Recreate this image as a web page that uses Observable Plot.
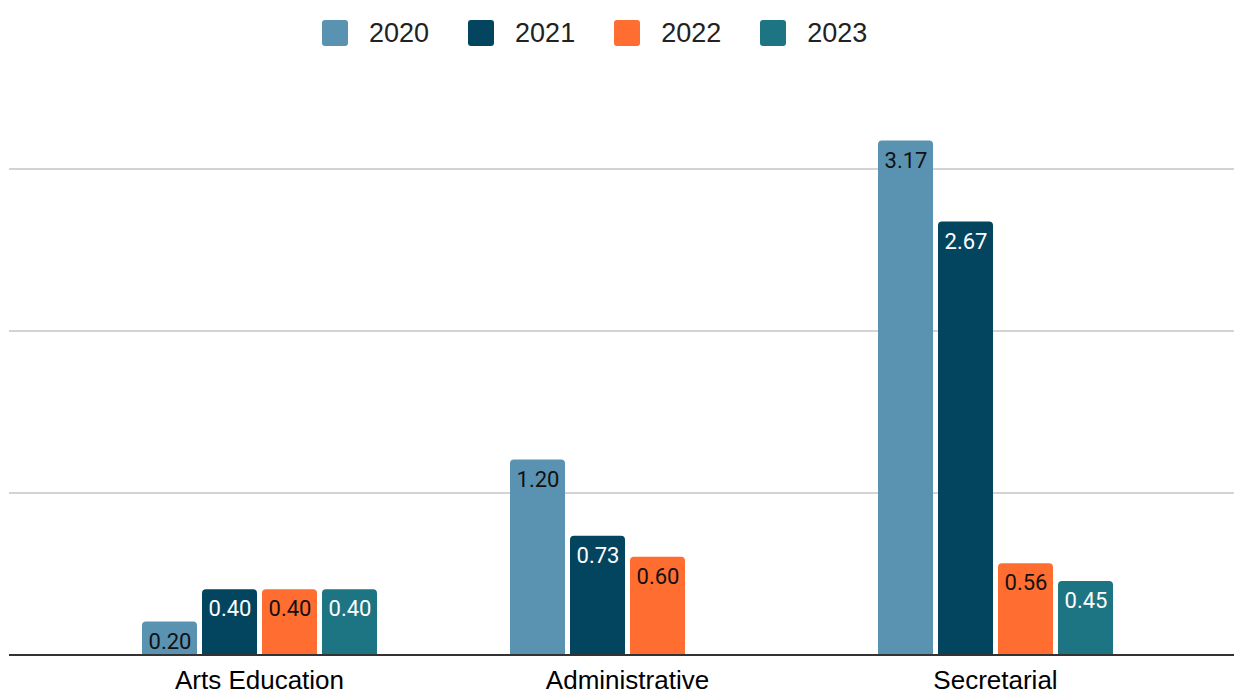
<!DOCTYPE html>
<html><head><meta charset="utf-8">
<script src="https://cdn.jsdelivr.net/npm/d3@7"></script>
<script src="https://cdn.jsdelivr.net/npm/@observablehq/plot@0.6"></script>
<style>
body{margin:0;background:#fff;font-family:"Liberation Sans",Arial,sans-serif;}
#legend{height:66px;position:relative;display:flex;align-items:center;padding-left:322px;box-sizing:border-box;}
.item{display:flex;align-items:center;font-size:27px;color:#222;margin-right:39px;}
.sw{width:26px;height:26px;border-radius:3px;margin-right:21px;}
#chart svg{display:block;}
</style></head><body>
<div id="legend"></div><div id="chart"></div>
<script>
const categories = ["Arts Education", "Administrative", "Secretarial"];
const years = ["2020", "2021", "2022", "2023"];
const v2020 = [0.20, 1.20, 3.17];
const v2021 = [0.40, 0.73, 2.67];
const v2022 = [0.40, 0.60, 0.56];
const v2023 = [0.40, null, 0.45];
const colors = ["#5a93b1", "#03455f", "#ff6d31", "#1d7483"];
const darkYears = ["2021", "2023"];
const gridTicks = [1, 2, 3];

const series = [v2020, v2021, v2022, v2023];
const data = [];
categories.forEach((c, i) => years.forEach((y, j) => {
  const v = series[j][i];
  if (v != null) data.push({category: c, year: y, value: v});
}));

const legend = document.getElementById("legend");
years.forEach((y, j) => {
  const it = document.createElement("div");
  it.className = "item";
  it.innerHTML = `<div class="sw" style="background:${colors[j]}"></div><span>${y}</span>`;
  legend.appendChild(it);
});

const chart = Plot.plot({
  width: 1234,
  height: 629,
  marginLeft: 11,
  marginRight: 0,
  marginTop: 0,
  marginBottom: 41,
  style: {fontFamily: "'Liberation Sans', Arial, sans-serif", background: "#fff"},
  fx: {domain: categories, range: [11, 1243], paddingInner: 0.3487, paddingOuter: 0.346, label: null},
  x: {domain: years, paddingInner: 1 / 12, paddingOuter: 1 / 24, axis: null},
  y: {domain: [0, 3], range: [588, 102], axis: null},
  color: {domain: years, range: colors},
  marks: [
    Plot.ruleY(gridTicks, {stroke: "#d3d3d3", strokeWidth: 2, insetLeft: -130, insetRight: -130, shapeRendering: "crispEdges"}),
    Plot.barY(data, {fx: "category", x: "year", y: "value", fill: "year", ry1: 4}),
    Plot.text(data, {fx: "category", x: "year", y: "value", text: d => d.value.toFixed(2),
      filter: d => !darkYears.includes(d.year), fill: "#111", lineAnchor: "top", dy: 11,
      fontSize: 22, fontFamily: "Roboto"}),
    Plot.text(data, {fx: "category", x: "year", y: "value", text: d => d.value.toFixed(2),
      filter: d => darkYears.includes(d.year), fill: "#fff", lineAnchor: "top", dy: 11,
      fontSize: 22, fontFamily: "Roboto"}),
    Plot.ruleY([0], {stroke: "#333", strokeWidth: 2, insetLeft: -130, insetRight: -130, shapeRendering: "crispEdges"}),
    Plot.axisFx({anchor: "bottom", tickSize: 0, tickPadding: 16, fontSize: 26, label: null, fill: "#000"})
  ]
});
document.getElementById("chart").appendChild(chart);
</script>
</body></html>
